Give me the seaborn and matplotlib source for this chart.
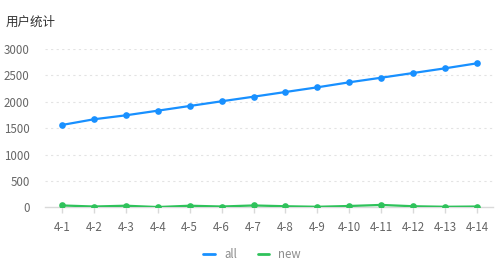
import matplotlib
matplotlib.use("Agg")
import matplotlib.pyplot as plt
import seaborn as sns
import pandas as pd
from matplotlib.lines import Line2D

dates = ["4-1", "4-2", "4-3", "4-4", "4-5", "4-6", "4-7", "4-8", "4-9", "4-10", "4-11", "4-12", "4-13", "4-14"]
all_users = [1560, 1668, 1743, 1831, 1920, 2009, 2096, 2185, 2274, 2369, 2456, 2545, 2634, 2729]
new_users = [35, 15, 30, 5, 30, 15, 35, 20, 10, 25, 45, 20, 10, 15]
series_names = ["all", "new"]
colors = ["#1890ff", "#2fc25b"]

sns.set_theme(style="white")
plt.rcParams["font.family"] = ["Noto Sans CJK SC", "DejaVu Sans"]

df = pd.DataFrame({
    "date": dates * 2,
    "x": list(range(len(dates))) * 2,
    "value": all_users + new_users,
    "series": [series_names[0]] * len(dates) + [series_names[1]] * len(dates),
})

fig = plt.figure(figsize=(5.04, 2.7), dpi=100)
ax = fig.add_axes([45 / 504, 62.7 / 270, 448 / 504, 158.3 / 270])

sns.lineplot(data=df, x="x", y="value", hue="series", palette=colors,
             marker="o", markersize=4.8, markeredgewidth=0, linewidth=1.6,
             ax=ax, legend=False, zorder=3)

ax.set_xlim(-0.53, len(dates) - 1 + 0.5)
ax.set_ylim(0, 3000)
ax.set_yticks([0, 500, 1000, 1500, 2000, 2500, 3000])
ax.set_xticks(range(len(dates)))
ax.set_xticklabels(dates)
ax.set_xlabel("")
ax.set_ylabel("")

for v in [500, 1000, 1500, 2000, 2500, 3000]:
    ax.axhline(v, color="#e3e3e3", linewidth=0.8, linestyle=(0, (2, 3)), zorder=1)

for s in ["top", "right", "left"]:
    ax.spines[s].set_visible(False)
ax.spines["bottom"].set_color("#d9d9d9")
ax.spines["bottom"].set_linewidth(1)

ax.tick_params(axis="x", colors="#d9d9d9", length=4, width=1, labelcolor="#666666",
               labelsize=8.3, pad=6, bottom=True)
ax.tick_params(axis="y", length=0, labelcolor="#666666", labelsize=8.3, pad=11)

fig.text(6 / 504, 1 - 22 / 270, "用户统计", fontsize=9, color="#333333",
         ha="left", va="center")

handles = [Line2D([0], [0], color=c, linewidth=2) for c in colors]
leg = fig.legend(handles, series_names, loc="center", bbox_to_anchor=(0.5, 1 - 255 / 270),
                 ncol=2, frameon=False, fontsize=8.3, handlelength=1.0, columnspacing=1.8,
                 handletextpad=0.8)
for t in leg.get_texts():
    t.set_color("#8c8c8c")

fig.savefig("out.png", dpi=100)
